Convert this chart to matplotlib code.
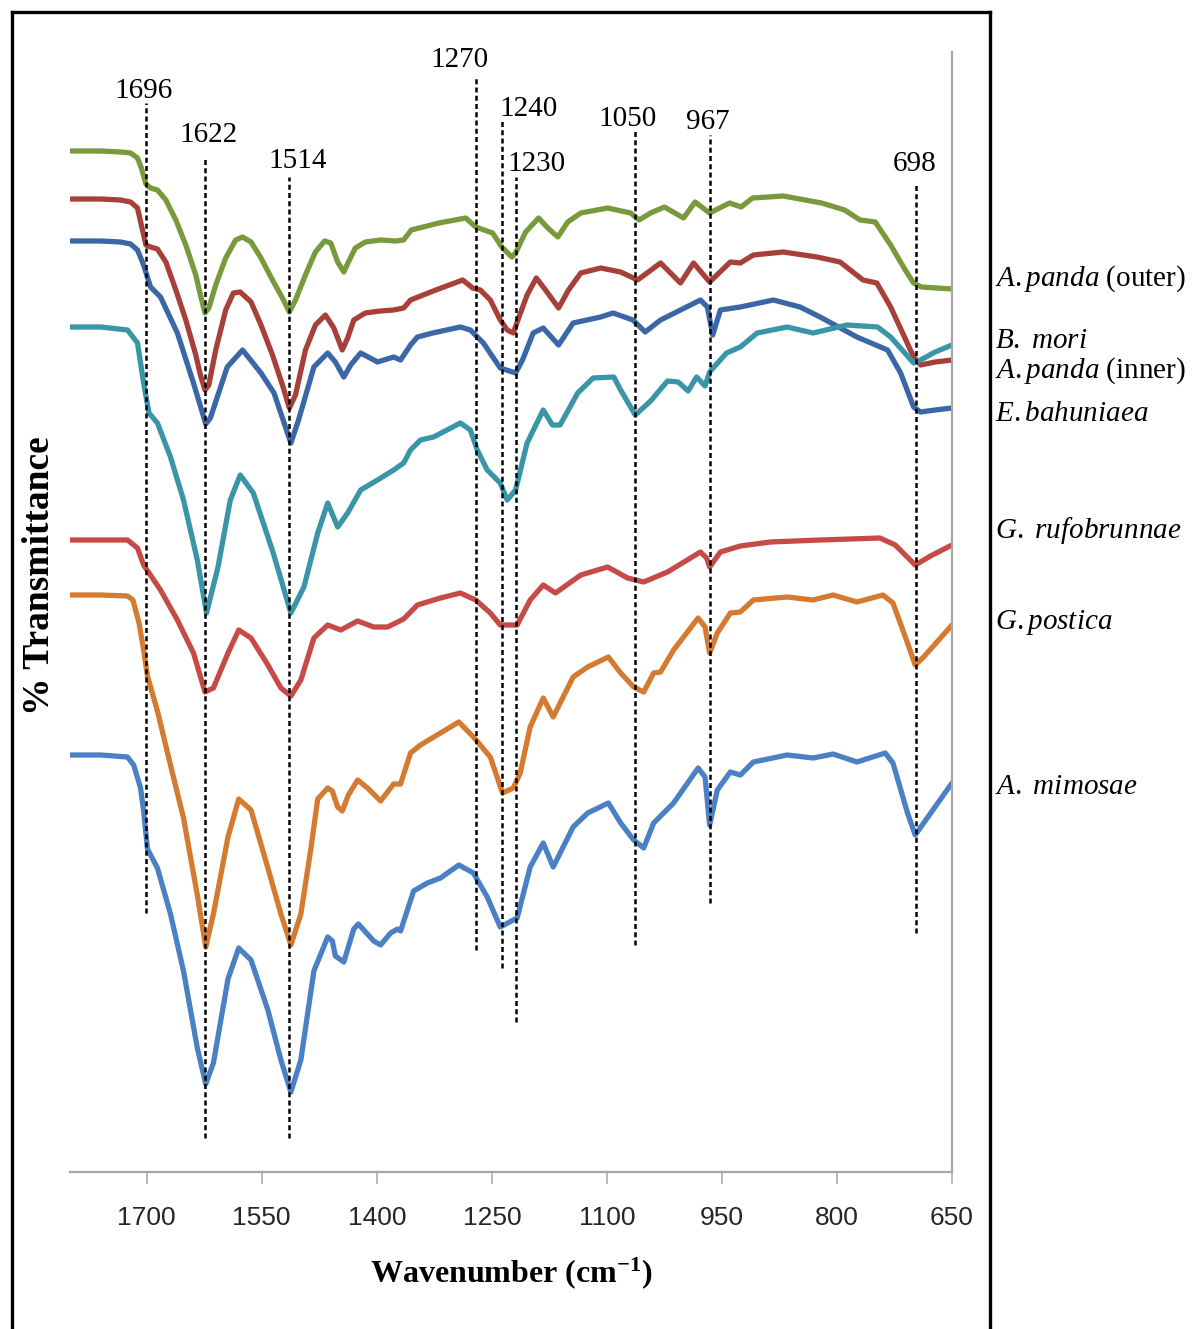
import matplotlib
matplotlib.use("Agg")
import matplotlib.pyplot as plt
from matplotlib.lines import Line2D

# FTIR spectra, wavenumber (cm-1) vs offset % transmittance
wn_outer = [1799, 1760, 1734, 1721, 1712, 1707, 1701, 1695, 1686, 1675, 1662, 1649, 1636, 1630, 1624,
            1619, 1610, 1597, 1584, 1575, 1564, 1551, 1536, 1523, 1514, 1506, 1493, 1480, 1468, 1460,
            1451, 1443, 1437, 1428, 1415, 1395, 1376, 1365, 1355, 1319, 1284, 1271, 1249, 1237, 1224,
            1219, 1206, 1189, 1177, 1164, 1151, 1134, 1099, 1069, 1058, 1043, 1025, 1000, 985, 966,
            940, 925, 910, 870, 820, 790, 770, 750, 730, 711, 700, 690, 650]
t_outer = [102.9, 102.9, 102.8, 102.7, 102.2, 101.2, 99.6, 99.2, 99.0, 98.0, 96.0, 93.5, 90.5, 88.5, 86.7,
           87.2, 89.5, 92.2, 94.0, 94.3, 93.8, 92.2, 90.0, 88.2, 86.8, 88.0, 90.5, 92.8, 93.9, 93.7,
           91.8, 90.8, 91.8, 93.2, 93.8, 94.0, 93.9, 94.0, 95.0, 95.7, 96.2, 95.3, 94.7, 93.3, 92.3,
           92.7, 94.8, 96.2, 95.2, 94.3, 95.8, 96.7, 97.2, 96.7, 96.0, 96.7, 97.3, 96.2, 97.8, 96.7,
           97.7, 97.3, 98.2, 98.4, 97.7, 97.0, 96.0, 95.8, 93.5, 91.0, 89.7, 89.3, 89.1]

wn_mori = [1799, 1760, 1734, 1721, 1712, 1707, 1701, 1695, 1686, 1675, 1662, 1649, 1636, 1630, 1624,
           1619, 1610, 1597, 1587, 1578, 1564, 1551, 1536, 1523, 1514, 1506, 1493, 1480, 1467, 1456,
           1445, 1438, 1430, 1415, 1395, 1378, 1365, 1356, 1323, 1288, 1275, 1265, 1252, 1239, 1230,
           1222, 1216, 1204, 1192, 1180, 1163, 1150, 1134, 1108, 1082, 1060, 1030, 1004, 987, 966,
           939, 926, 909, 870, 826, 796, 766, 748, 730, 700, 691, 672, 650]
t_mori = [98.1, 98.1, 98.0, 97.8, 97.2, 95.5, 93.5, 93.3, 93.1, 91.8, 89.0, 86.0, 82.5, 80.5, 79.0,
          79.5, 83.0, 87.0, 88.7, 88.8, 87.8, 85.5, 82.5, 79.5, 77.2, 78.5, 83.0, 85.5, 86.5, 85.2,
          83.0, 84.2, 86.0, 86.7, 86.9, 87.0, 87.2, 88.0, 89.0, 90.0, 89.2, 89.0, 88.0, 86.0, 85.0,
          84.7, 86.0, 88.5, 90.2, 89.0, 87.2, 89.0, 90.7, 91.2, 90.8, 90.0, 91.7, 89.7, 91.7, 89.8,
          91.8, 91.7, 92.5, 92.8, 92.3, 91.8, 90.0, 89.7, 87.3, 82.3, 81.5, 81.8, 82.0]

wn_inner = [1799, 1760, 1734, 1721, 1712, 1704, 1695, 1682, 1660, 1639, 1623, 1617, 1595, 1575, 1551,
            1534, 1512, 1502, 1482, 1464, 1454, 1443, 1434, 1421, 1399, 1378, 1369, 1356, 1347, 1327,
            1291, 1278, 1261, 1239, 1219, 1210, 1196, 1183, 1163, 1144, 1108, 1092, 1066, 1050, 1030,
            978, 969, 962, 952, 926, 883, 848, 822, 774, 734, 717, 700, 691, 672, 650]
t_inner = [93.9, 93.9, 93.8, 93.6, 93.0, 91.5, 89.3, 88.3, 84.7, 79.7, 75.6, 76.2, 81.3, 83.0, 80.7,
           78.7, 73.7, 76.0, 81.3, 82.7, 81.8, 80.3, 81.5, 82.7, 81.8, 82.3, 82.0, 83.5, 84.3, 84.7,
           85.3, 85.0, 83.7, 81.2, 80.7, 82.0, 84.7, 85.2, 83.5, 85.7, 86.3, 86.7, 86.0, 84.8, 86.0,
           88.0, 87.3, 84.5, 87.0, 87.3, 88.0, 87.3, 86.3, 84.3, 83.0, 80.7, 77.3, 76.8, 77.0, 77.2]

wn_ebah = [1799, 1760, 1725, 1712, 1704, 1697, 1686, 1669, 1652, 1634, 1622, 1607, 1591, 1578, 1561,
           1535, 1512, 1495, 1477, 1464, 1451, 1438, 1421, 1399, 1378, 1365, 1356, 1343, 1326, 1291,
           1278, 1269, 1256, 1239, 1230, 1219, 1204, 1183, 1171, 1161, 1138, 1118, 1091, 1082, 1063,
           1043, 1021, 1007, 994, 983, 972, 966, 944, 926, 904, 865, 831, 787, 747, 730,
           700, 691, 672, 650]
t_ebah = [85.3, 85.3, 85.0, 83.7, 79.7, 76.7, 75.7, 72.3, 68.0, 62.0, 56.7, 61.3, 68.0, 70.5, 68.7,
          62.7, 56.7, 59.3, 64.7, 67.7, 65.3, 66.7, 69.0, 70.0, 71.0, 71.7, 73.0, 74.0, 74.3, 75.7,
          75.0, 73.0, 71.0, 69.7, 68.0, 69.0, 73.7, 77.0, 75.5, 75.5, 78.7, 80.2, 80.3, 79.0, 76.5,
          77.9, 79.9, 79.8, 78.9, 80.3, 79.4, 80.8, 82.7, 83.3, 84.7, 85.3, 84.7, 85.5, 85.3, 84.3,
          81.7, 82.0, 82.8, 83.5]

wn_rufo = [1799, 1760, 1725, 1712, 1704, 1682, 1660, 1639, 1624, 1613, 1594, 1580, 1564, 1542, 1525,
           1512, 1499, 1482, 1464, 1447, 1425, 1404, 1386, 1365, 1347, 1317, 1291, 1271, 1252, 1239,
           1217, 1200, 1183, 1167, 1134, 1099, 1073, 1052, 1021, 978, 970, 966, 952, 926, 887,
           822, 744, 724, 711, 698, 678, 650]
t_rufo = [64.0, 64.0, 64.0, 63.2, 61.5, 59.0, 56.0, 52.7, 48.8, 49.2, 52.7, 55.0, 54.2, 51.5, 49.2,
          48.4, 50.0, 54.2, 55.5, 55.0, 55.9, 55.3, 55.3, 56.1, 57.5, 58.2, 58.7, 58.0, 56.7, 55.5,
          55.5, 58.0, 59.5, 58.7, 60.5, 61.3, 60.2, 59.8, 60.8, 62.8, 62.2, 61.3, 62.8, 63.4, 63.8,
          64.0, 64.2, 63.5, 62.5, 61.5, 62.4, 63.5]

wn_post = [1799, 1760, 1725, 1718, 1710, 1704, 1699, 1686, 1669, 1652, 1634, 1623, 1613, 1594, 1580,
           1564, 1542, 1525, 1512, 1499, 1486, 1477, 1464, 1458, 1451, 1445, 1437, 1425, 1412, 1395,
           1378, 1369, 1356, 1343, 1317, 1293, 1274, 1252, 1236, 1222, 1213, 1200, 1183, 1170, 1144,
           1125, 1098, 1082, 1065, 1052, 1039, 1030, 1013, 981, 972, 966, 956, 939, 926, 909,
           865, 831, 805, 774, 740, 727, 708, 698, 687, 650]
t_post = [58.5, 58.5, 58.4, 58.0, 55.7, 53.0, 50.4, 46.9, 41.5, 36.2, 28.5, 23.3, 26.6, 34.3, 38.1,
          37.0, 31.2, 26.6, 23.5, 26.6, 33.1, 38.1, 39.2, 38.9, 37.3, 36.9, 38.5, 40.0, 39.2, 37.9,
          39.6, 39.6, 42.7, 43.5, 44.7, 45.8, 44.3, 42.3, 38.7, 39.2, 40.7, 45.3, 48.2, 46.3, 50.3,
          51.3, 52.3, 50.7, 49.3, 48.8, 50.7, 50.8, 53.0, 56.2, 55.3, 52.7, 54.7, 56.7, 56.8, 58.0,
          58.3, 58.0, 58.5, 57.8, 58.5, 57.7, 53.7, 51.5, 52.3, 55.5]

wn_mimo = [1799, 1760, 1725, 1717, 1708, 1704, 1699, 1686, 1669, 1652, 1634, 1623, 1613, 1594, 1580,
           1564, 1542, 1525, 1512, 1499, 1482, 1464, 1458, 1454, 1443, 1430, 1424, 1404, 1395, 1382,
           1373, 1369, 1352, 1334, 1317, 1293, 1274, 1256, 1239, 1217, 1200, 1183, 1170, 1144, 1125,
           1098, 1082, 1065, 1052, 1039, 1013, 981, 972, 966, 956, 939, 926, 909, 865, 831,
           805, 774, 737, 727, 708, 698, 650]
t_mimo = [42.5, 42.5, 42.3, 41.5, 39.2, 36.9, 33.1, 31.2, 26.6, 20.9, 13.2, 9.6, 11.7, 20.1, 23.2,
          22.0, 17.0, 12.0, 8.8, 12.0, 20.9, 24.3, 23.9, 22.4, 21.8, 25.1, 25.6, 23.9, 23.5, 24.7,
          25.1, 24.9, 28.9, 29.7, 30.2, 31.5, 30.7, 28.3, 25.3, 26.2, 31.3, 33.7, 31.3, 35.3, 36.7,
          37.7, 35.7, 34.0, 33.2, 35.7, 37.7, 41.2, 40.3, 35.5, 39.0, 40.8, 40.5, 41.8, 42.5, 42.2,
          42.6, 41.8, 42.7, 41.7, 36.7, 34.5, 39.7]

# species names (math text used where only the genus/species part is italic)
names = [r'$\mathit{A.panda}$ (outer)', r'$\mathit{B.\ mori}$', r'$\mathit{A.panda}$ (inner)',
         r'$\mathit{E.bahuniaea}$', r'$\mathit{G.\ rufobrunnae}$', r'$\mathit{G.postica}$',
         r'$\mathit{A.\ mimosae}$']
colors = ['#789a3d', '#a8403a', '#3b67a6', '#3a95a8', '#c64b47', '#d47b31', '#4a80c4']

# marked bands: label, position of the dashed line, its vertical span
peak_labels = ['1696', '1622', '1514', '1270', '1240', '1230', '1050', '967', '698']
peak_wn = [1701, 1624, 1514, 1270, 1237, 1218, 1063, 966, 697]
line_top = [107.7, 102.3, 100.3, 110.2, 106.0, 100.3, 105.0, 104.5, 99.7]
line_bottom = [26.7, 4.2, 4.2, 23.0, 21.2, 15.8, 23.5, 27.7, 24.7]

xticks = [1700, 1550, 1400, 1250, 1100, 950, 800, 650]

plt.rcParams['font.family'] = ['Liberation Serif', 'DejaVu Serif']
plt.rcParams['mathtext.fontset'] = 'custom'
plt.rcParams['mathtext.rm'] = 'Liberation Serif'
plt.rcParams['mathtext.it'] = 'Liberation Serif:italic'
plt.rcParams['mathtext.bf'] = 'Liberation Serif:bold'

W, H = 1197, 1329
fig = plt.figure(figsize=(W / 100, H / 100), dpi=100)
ax = fig.add_axes([70 / W, 1 - 1172 / H, 882 / W, 1120 / H])

series = [(wn_outer, t_outer), (wn_mori, t_mori), (wn_inner, t_inner), (wn_ebah, t_ebah),
          (wn_rufo, t_rufo), (wn_post, t_post), (wn_mimo, t_mimo)]
for (wn, tr), c in zip(series, colors):
    ax.plot(wn, tr, color=c, lw=3.8, solid_joinstyle='round', solid_capstyle='round')

for x, lo, hi in zip(peak_wn, line_bottom, line_top):
    ax.plot([x, x], [lo, hi], color='black', lw=1.8, ls=(0, (2.0, 1.3)), clip_on=False)

# label placement (text centre x, baseline y)
label_pos = [(1704, 108.2), (1619, 103.8), (1503, 101.2), (1292, 111.3), (1202, 106.4),
             (1192, 100.9), (1073, 105.4), (968, 105.1), (699, 100.9)]
for lab, (lx, ly) in zip(peak_labels, label_pos):
    ax.text(lx, ly, lab, ha='center', va='baseline', fontsize=21, clip_on=False)

ax.set_xlim(1800, 650)
ax.set_ylim(0.8, 112.8)
ax.set_yticks([])
ax.set_xticks(xticks)
ax.set_xticklabels([str(v) for v in xticks])
for s in ['left', 'top']:
    ax.spines[s].set_visible(False)
for s in ['bottom', 'right']:
    ax.spines[s].set_color('#a6a6a6')
    ax.spines[s].set_linewidth(1.6)
ax.tick_params(axis='x', direction='out', length=8.5, width=1.1, color='#a6a6a6', pad=16,
               labelsize=19, labelcolor='#262626')
for lbl in ax.get_xticklabels():
    lbl.set_family(['Liberation Sans Narrow', 'Liberation Sans'])

fig.text(511 / W, 1 - 1282 / H, r'Wavenumber (cm$^{\mathbf{-1}}$)', ha='center', va='baseline',
         fontsize=23, fontweight='bold')
fig.text(40 / W, 1 - 576 / H, '% Transmittance', rotation=90, ha='center', va='center',
         fontsize=27, fontweight='bold')

name_base = [286, 348, 378, 421, 538, 629, 794]
for nm, yb in zip(names, name_base):
    fig.text(995 / W, 1 - yb / H, nm, ha='left', va='baseline', fontsize=21)

# outer frame (open at the bottom)
frame = [([12, 12], [12, H]), ([12, 990], [12, 12]), ([990, 990], [12, H])]
for xs, ys in frame:
    fig.add_artist(Line2D([x / W for x in xs], [1 - y / H for y in ys], color='black', lw=2.4))

fig.savefig('out.png', dpi=100)
